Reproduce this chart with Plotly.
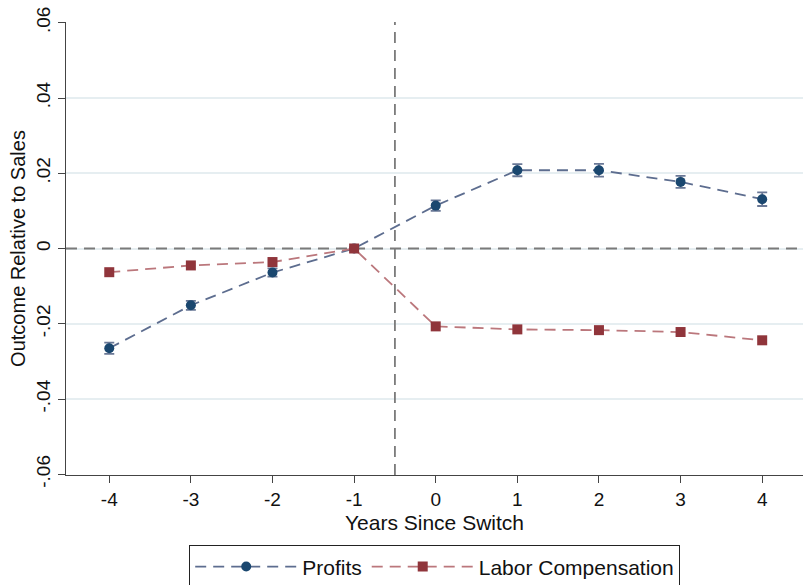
import plotly.graph_objects as go

# Event-study estimates by years relative to the switch
years = [-4, -3, -2, -1, 0, 1, 2, 3, 4]
profits = [-0.0265, -0.0151, -0.0064, 0.0, 0.0114, 0.0208, 0.0208, 0.0177, 0.0131]
profits_se = [0.0015, 0.0012, 0.0011, 0.0, 0.0014, 0.0016, 0.0017, 0.0016, 0.0018]
labor = [-0.0063, -0.0045, -0.0036, 0.0, -0.0207, -0.0215, -0.0217, -0.0222, -0.0244]
labor_se = [0.0004, 0.0004, 0.0004, 0.0, 0.0004, 0.0004, 0.0004, 0.0004, 0.0004]

y_ticks = [-0.06, -0.04, -0.02, 0.0, 0.02, 0.04, 0.06]
y_tick_text = ["-.06", "-.04", "-.02", "0", ".02", ".04", ".06"]

# Reference lines: zero effect and the year of the switch
x_range = [-4.53, 4.5]
y_range = [-0.0602, 0.0602]
switch_x = -0.5

NAVY = "#1a476f"
NAVY_LINE = "#5d6d8f"
MAROON = "#90353b"
MAROON_LINE = "#bb777c"
REF_GRAY = "#7a7a7a"
FONT = "Liberation Sans, Arial, sans-serif"
DASH = "11px,7px"

fig = go.Figure()

# Reference lines go first so the estimates sit on top of them
fig.add_trace(go.Scatter(
    x=x_range, y=[0, 0], mode="lines", showlegend=False, hoverinfo="skip",
    line=dict(color=REF_GRAY, width=1.8, dash=DASH),
))
fig.add_trace(go.Scatter(
    x=[switch_x, switch_x], y=y_range, mode="lines", showlegend=False, hoverinfo="skip",
    line=dict(color=REF_GRAY, width=1.8, dash=DASH),
))

fig.add_trace(go.Scatter(
    x=years, y=profits, name="Profits", mode="lines+markers",
    line=dict(color=NAVY_LINE, width=1.8, dash=DASH),
    marker=dict(symbol="circle", size=10, color=NAVY),
    error_y=dict(type="data", array=profits_se, visible=True,
                 color="#6a7896", thickness=1.8, width=5),
))
fig.add_trace(go.Scatter(
    x=years, y=labor, name="Labor Compensation", mode="lines+markers",
    line=dict(color=MAROON_LINE, width=1.8, dash=DASH),
    marker=dict(symbol="square", size=10, color=MAROON),
    error_y=dict(type="data", array=labor_se, visible=True,
                 color="#b07378", thickness=1.2, width=3),
))

fig.update_layout(
    width=805, height=585,
    margin=dict(l=66, r=2, t=22, b=110, autoexpand=False),
    paper_bgcolor="white", plot_bgcolor="white",
    font=dict(family=FONT, size=19, color="#111111"),
    showlegend=True,
    legend=dict(
        orientation="h", x=0.5, xanchor="center", y=-0.155, yanchor="top",
        bordercolor="#222222", borderwidth=1.2, bgcolor="white",
        font=dict(family=FONT, size=21, color="#111111"),
        itemwidth=102, traceorder="normal",
    ),
    xaxis=dict(
        range=x_range, tickvals=years, ticktext=[str(v) for v in years],
        showgrid=False, zeroline=False,
        showline=True, linecolor="#444444", linewidth=1.3,
        ticks="outside", ticklen=7, tickcolor="#444444", tickwidth=1.2,
        tickfont=dict(size=19),
        title=dict(text="Years Since Switch", font=dict(size=21), standoff=6),
    ),
    yaxis=dict(
        range=y_range, tickvals=y_ticks, ticktext=y_tick_text,
        showgrid=True, gridcolor="#e6eef1", gridwidth=1.5, zeroline=False,
        showline=True, linecolor="#444444", linewidth=1.3,
        ticks="outside", ticklen=7, tickcolor="#444444", tickwidth=1.2,
        tickangle=-90, tickfont=dict(size=19),
        title=dict(text="Outcome Relative to Sales", font=dict(size=20), standoff=2),
    ),
)

fig.write_html("out.html")
